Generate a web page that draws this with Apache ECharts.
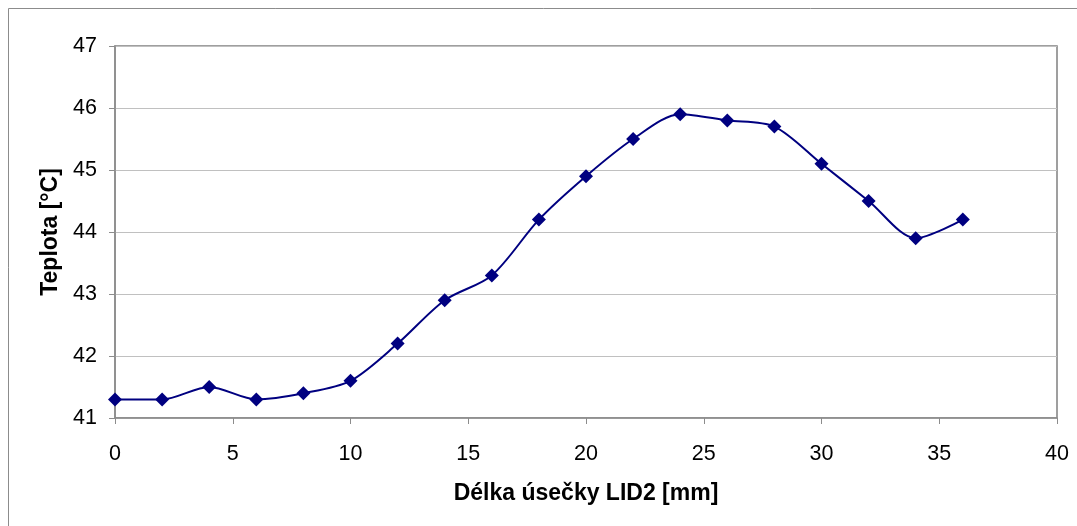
<!DOCTYPE html>
<html>
<head>
<meta charset="utf-8">
<script src="https://cdn.jsdelivr.net/npm/echarts@6/dist/echarts.min.js"></script>
<style>
  html, body { margin: 0; padding: 0; background: #fff; }
  #chart { width: 1077px; height: 526px; }
</style>
</head>
<body>
<div id="chart"></div>
<script>
// delka useceky [mm] a teplota [°C]
const delka = [0, 2, 4, 6, 8, 10, 12, 14, 16, 18, 20, 22, 24, 26, 28, 30, 32, 34, 36]
const teplota = [41.3, 41.3, 41.5, 41.3, 41.4, 41.6, 42.2, 42.9, 43.3, 44.2, 44.9, 45.5, 45.9, 45.8, 45.7, 45.1, 44.5, 43.9, 44.2]

const font = 'Liberation Sans, Arial, sans-serif'
const chart = echarts.init(document.getElementById('chart'), null, { renderer: 'canvas' })

const option = {
  backgroundColor: '#fff',
  animation: false,
  graphic: [{
    // oriznuty ramecek kolem grafu
    type: 'rect',
    silent: true,
    shape: { x: 8.5, y: 8.5, width: 1200, height: 700 },
    style: { fill: 'none', stroke: '#8c8c8c', lineWidth: 1 }
  }],
  grid: {
    left: 115,
    right: 20,
    top: 46,
    bottom: 108,
    show: true,
    borderColor: '#808080',
    borderWidth: 1.5
  },
  xAxis: {
    type: 'value',
    min: 0,
    max: 40,
    interval: 5,
    name: 'Délka úsečky LID2 [mm]',
    nameLocation: 'middle',
    nameGap: 64,
    nameTextStyle: { fontFamily: font, fontSize: 23, fontWeight: 'bold', color: '#000' },
    axisLine: { show: true, lineStyle: { color: '#8c8c8c', width: 1.5 } },
    axisTick: { show: true, length: 6, lineStyle: { color: '#8c8c8c' } },
    axisLabel: { fontFamily: font, fontSize: 21.5, color: '#000', margin: 25 },
    splitLine: { show: false }
  },
  yAxis: {
    type: 'value',
    min: 41,
    max: 47,
    interval: 1,
    name: 'Teplota [°C]',
    nameLocation: 'middle',
    nameGap: 52,
    nameTextStyle: { fontFamily: font, fontSize: 23, fontWeight: 'bold', color: '#000' },
    axisLine: { show: true, lineStyle: { color: '#8c8c8c', width: 1.5 } },
    axisTick: { show: true, length: 6, lineStyle: { color: '#8c8c8c' } },
    axisLabel: { fontFamily: font, fontSize: 21.5, color: '#000', margin: 18 },
    splitLine: { show: true, lineStyle: { color: '#c0c0c0', width: 1 } }
  },
  series: [{
    type: 'line',
    data: delka.map((x, i) => [x, teplota[i]]),
    smooth: 0.3,
    symbol: 'diamond',
    symbolSize: 14,
    itemStyle: { color: '#000080' },
    lineStyle: { color: '#000080', width: 2 }
  }]
}
chart.setOption(option)
</script>
</body>
</html>
